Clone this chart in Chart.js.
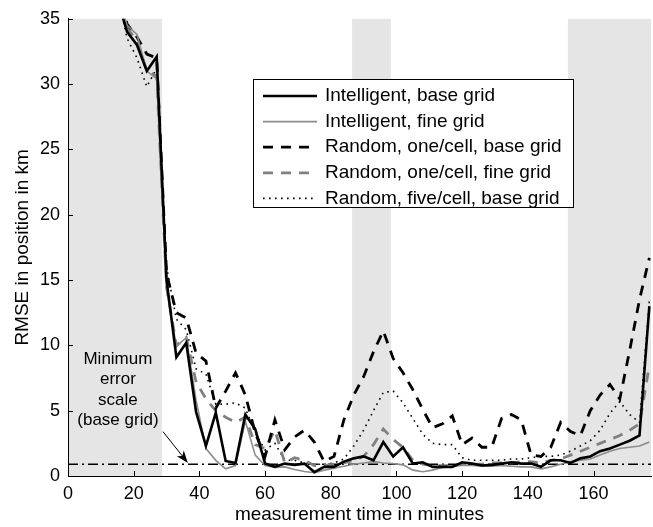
<!DOCTYPE html>
<html lang="en">
<head>
<meta charset="utf-8" />
<title>RMSE in position vs measurement time</title>
<script src="https://cdn.jsdelivr.net/npm/chart.js@4.4.1/dist/chart.umd.min.js"></script>
<style>
  html, body { margin: 0; padding: 0; background: #fff; }
  #rmseChart { display: block; }
</style>
</head>
<body>
<canvas id="rmseChart" width="653" height="527"></canvas>
<script>
// measurement times in minutes (one estimate every 3 min)
const times = [15, 18, 21, 24, 27, 30, 33, 36, 39, 42, 45, 48, 51, 54, 57, 60, 63, 66, 69, 72,
  75, 78, 81, 84, 87, 90, 93, 96, 99, 102, 105, 108, 111, 114, 117, 120, 123, 126, 129, 132,
  135, 138, 141, 144, 147, 150, 153, 156, 159, 162, 165, 168, 171, 174, 177];

// RMSE in km for each sampling strategy
const intelligentBase = [36.5, 34.0, 33.0, 31.0, 32.1, 15.0, 9.1, 10.2, 4.9, 2.3,
  4.85, 1.15, 1.0, 4.7, 3.6, 0.95, 0.7, 0.95, 0.85, 0.95,
  0.3, 0.7, 0.7, 1.1, 1.35, 1.5, 1.2, 2.6, 1.5, 2.2,
  0.95, 1.05, 0.7, 0.7, 0.7, 1.05, 0.95, 0.8, 0.85, 0.95,
  1.05, 0.95, 0.95, 0.7, 1.2, 1.2, 1.0, 1.35, 1.5, 1.9,
  2.1, 2.4, 2.7, 3.1, 13.0];
const intelligentFine = [37.0, 34.5, 33.8, 31.0, 30.4, 14.3, 9.9, 10.6, 5.8, 2.1,
  1.2, 0.55, 0.8, 4.2, 1.6, 0.8, 0.65, 0.7, 0.5, 0.35,
  0.25, 0.45, 0.6, 0.75, 0.9, 1.0, 1.1, 1.0, 0.95, 0.85,
  0.45, 0.33, 0.45, 0.65, 0.75, 0.8, 0.8, 0.75, 0.75, 0.8,
  0.75, 0.7, 0.7, 0.55, 0.7, 0.9, 1.1, 1.2, 1.3, 1.6,
  1.9, 2.1, 2.2, 2.3, 2.6];
const randomOneBase = [37.5, 34.6, 33.6, 32.3, 32.0, 15.5, 12.5, 12.1, 9.4, 8.8,
  5.2, 6.5, 7.9, 6.2, 3.3, 1.5, 4.3, 2.0, 3.0, 3.5,
  2.6, 1.1, 1.5, 4.3, 6.2, 7.6, 9.5, 11.1, 9.0, 7.9,
  6.6, 5.1, 3.7, 4.0, 4.6, 2.4, 2.9, 2.2, 2.2, 4.4,
  4.7, 4.3, 1.6, 1.5, 2.2, 4.1, 3.4, 3.1, 5.0, 6.2,
  7.0, 5.9, 9.6, 13.5, 16.7];
const randomOneFine = [37.0, 34.3, 33.3, 31.0, 30.6, 14.5, 10.0, 10.6, 7.2, 5.9,
  5.0, 4.5, 4.1, 4.5, 2.4, 2.1, 3.5, 1.0, 1.4, 1.2,
  0.8, 0.8, 0.9, 1.0, 1.2, 1.5, 2.4, 3.6, 2.8, 2.2,
  1.2, 0.9, 0.8, 0.8, 0.8, 0.9, 0.9, 0.9, 1.0, 1.0,
  1.0, 1.1, 1.1, 1.0, 1.2, 1.3, 1.6, 1.9, 2.2, 2.5,
  2.8, 3.1, 3.5, 4.0, 8.5];
const randomFiveBase = [37.0, 33.5, 32.0, 29.8, 31.2, 16.0, 12.0, 11.2, 8.2, 7.8,
  5.5, 5.5, 5.6, 5.2, 3.3, 2.0, 2.5, 1.2, 1.2, 1.0,
  0.9, 0.9, 1.0, 1.3, 2.3, 3.5, 5.0, 6.4, 6.5, 5.6,
  4.4, 3.2, 2.5, 2.4, 2.4, 1.4, 1.2, 1.2, 1.2, 1.2,
  1.3, 1.3, 1.4, 1.5, 1.5, 1.6, 1.9, 2.3, 2.7, 3.5,
  4.8, 5.7, 4.7, 4.1, 13.4];

const minErrorScale = 0.9;     // km, base grid
const timeMin = 0, timeMax = 177.5;
const xTickStep = 20, yTickStep = 5, yMax = 35;

// gray background periods (minutes)
const shadedPeriods = [[0, 28.6], [86.5, 98.3], [152.2, 177.5]];

const noteLines = ['Minimum', 'error', 'scale', '(base grid)'];

const FONT = "'Liberation Sans', Arial, Helvetica, sans-serif";
Chart.defaults.font.family = FONT;
Chart.defaults.color = '#000';

function pts(values) {
  return times.map((t, i) => ({ x: t, y: values[i] }));
}

const bandsPlugin = {
  id: 'bands',
  beforeDraw(chart) {
    const { ctx, chartArea: a, scales: { x } } = chart;
    ctx.save();
    ctx.fillStyle = '#e5e5e5';
    shadedPeriods.forEach(([s, e]) => {
      const x0 = x.getPixelForValue(s), x1 = x.getPixelForValue(e);
      ctx.fillRect(x0, a.top, x1 - x0, a.bottom - a.top);
    });
    ctx.restore();
  }
};

// matlab style ticks pointing into the plot
const innerTicks = {
  id: 'innerTicks',
  afterDatasetsDraw(chart) {
    const { ctx, chartArea: a, scales: { x, y } } = chart;
    ctx.save();
    ctx.strokeStyle = '#000';
    ctx.lineWidth = 1;
    ctx.beginPath();
    x.ticks.forEach(t => {
      const px = Math.round(x.getPixelForValue(t.value)) + 0.5;
      ctx.moveTo(px, a.bottom);
      ctx.lineTo(px, a.bottom - 5);
    });
    y.ticks.forEach(t => {
      const py = Math.round(y.getPixelForValue(t.value)) + 0.5;
      ctx.moveTo(a.left, py);
      ctx.lineTo(a.left + 5, py);
    });
    ctx.stroke();
    ctx.restore();
  }
};

const notePlugin = {
  id: 'note',
  afterDatasetsDraw(chart) {
    const { ctx, scales: { x, y } } = chart;
    ctx.save();
    ctx.fillStyle = '#000';
    ctx.font = '17px ' + FONT;
    ctx.textAlign = 'center';
    ctx.textBaseline = 'middle';
    const cx = x.getPixelForValue(15.2);
    const top = y.getPixelForValue(8.95);
    noteLines.forEach((s, i) => ctx.fillText(s, cx, top + i * 20.5));

    // arrow down to the minimum error line
    const x0 = x.getPixelForValue(28.9), y0 = y.getPixelForValue(3.4);
    const x1 = x.getPixelForValue(36.5), y1 = y.getPixelForValue(minErrorScale + 0.1);
    const ang = Math.atan2(y1 - y0, x1 - x0);
    ctx.strokeStyle = '#000';
    ctx.lineWidth = 1;
    ctx.beginPath();
    ctx.moveTo(x0, y0);
    ctx.lineTo(x1 - 8 * Math.cos(ang), y1 - 8 * Math.sin(ang));
    ctx.stroke();
    ctx.beginPath();
    ctx.moveTo(x1, y1);
    ctx.lineTo(x1 - 13 * Math.cos(ang - 0.35), y1 - 13 * Math.sin(ang - 0.35));
    ctx.lineTo(x1 - 9 * Math.cos(ang), y1 - 9 * Math.sin(ang));
    ctx.lineTo(x1 - 13 * Math.cos(ang + 0.35), y1 - 13 * Math.sin(ang + 0.35));
    ctx.closePath();
    ctx.fill();
    ctx.restore();
  }
};

const boxLegend = {
  id: 'boxLegend',
  afterDatasetsDraw(chart) {
    const { ctx } = chart;
    const left = 253, top = 79, w = 320, h = 128;
    ctx.save();
    ctx.fillStyle = '#fff';
    ctx.fillRect(left, top, w, h);
    ctx.strokeStyle = '#000';
    ctx.lineWidth = 1;
    ctx.strokeRect(left + 0.5, top + 0.5, w, h);
    ctx.font = '19px ' + FONT;
    ctx.textBaseline = 'middle';
    ctx.textAlign = 'left';
    chart.data.datasets.slice(0, 5).forEach((ds, i) => {
      const ry = top + 17 + i * 25.6;
      ctx.beginPath();
      ctx.strokeStyle = ds.borderColor;
      ctx.lineWidth = ds.borderWidth;
      ctx.setLineDash(ds.borderDash || []);
      ctx.moveTo(left + 10, ry);
      ctx.lineTo(left + 64, ry);
      ctx.stroke();
      ctx.setLineDash([]);
      ctx.fillStyle = '#000';
      ctx.fillText(ds.label, left + 72, ry);
    });
    ctx.restore();
  }
};

new Chart(document.getElementById('rmseChart'), {
  type: 'line',
  data: {
    datasets: [
      { label: 'Intelligent, base grid', data: pts(intelligentBase),
        borderColor: '#000', borderWidth: 2.6 },
      { label: 'Intelligent, fine grid', data: pts(intelligentFine),
        borderColor: '#8c8c8c', borderWidth: 1.6 },
      { label: 'Random, one/cell, base grid', data: pts(randomOneBase),
        borderColor: '#000', borderWidth: 2.8, borderDash: [10, 8] },
      { label: 'Random, one/cell, fine grid', data: pts(randomOneFine),
        borderColor: '#808080', borderWidth: 2.8, borderDash: [10, 8] },
      { label: 'Random, five/cell, base grid', data: pts(randomFiveBase),
        borderColor: '#000', borderWidth: 1.6, borderDash: [1.6, 4.4] },
      { label: 'Minimum error scale', data: [{ x: timeMin, y: minErrorScale }, { x: timeMax, y: minErrorScale }],
        borderColor: '#000', borderWidth: 1.5, borderDash: [10, 4, 2, 4] }
    ]
  },
  options: {
    responsive: false,
    animation: false,
    events: [],
    layout: { padding: { top: 18, right: 2, left: 0, bottom: 0 } },
    elements: {
      line: { tension: 0, borderCapStyle: 'butt', borderJoinStyle: 'miter' },
      point: { radius: 0 }
    },
    plugins: {
      legend: { display: false },
      tooltip: { enabled: false }
    },
    scales: {
      x: {
        type: 'linear',
        min: timeMin,
        max: timeMax,
        grid: { display: false, drawTicks: false },
        border: { display: true, color: '#000', width: 1 },
        ticks: { stepSize: xTickStep, includeBounds: false, maxRotation: 0,
          font: { size: 18 }, padding: 7, color: '#000' },
        title: { display: true, text: 'measurement time in minutes', color: '#000',
          font: { size: 19 }, padding: { top: 0, bottom: 1 } },
        afterFit(scale) { scale.height = 51; }
      },
      y: {
        min: 0,
        max: yMax,
        grid: { display: false, drawTicks: false },
        border: { display: true, color: '#000', width: 1 },
        ticks: { stepSize: yTickStep, font: { size: 18 }, padding: 8, color: '#000' },
        title: { display: true, text: 'RMSE in position in km', color: '#000',
          font: { size: 19 }, padding: { top: 11, bottom: 0 } },
        afterFit(scale) { scale.width = 68; }
      }
    }
  },
  plugins: [bandsPlugin, innerTicks, notePlugin, boxLegend]
});
</script>
</body>
</html>
